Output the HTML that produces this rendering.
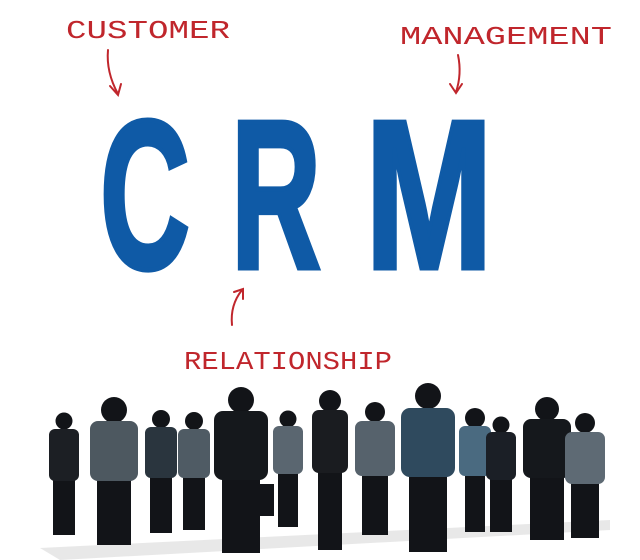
<!DOCTYPE html>
<html><head><style>
html,body{margin:0;padding:0;background:#fff;width:640px;height:560px;overflow:hidden}
</style></head><body>
<svg width="640" height="560" viewBox="0 0 640 560" xmlns="http://www.w3.org/2000/svg">
<rect width="640" height="560" fill="#fff"/>
<g font-family="Liberation Sans Narrow, Liberation Sans, sans-serif" font-weight="bold" fill="#0f5aa6" stroke="#0f5aa6" stroke-width="5" stroke-linejoin="miter">
<text x="100" y="268" font-size="212" textLength="90" lengthAdjust="spacingAndGlyphs">C</text>
<text x="231" y="268" font-size="212" textLength="90" lengthAdjust="spacingAndGlyphs">R</text>
<text x="365" y="268" font-size="212" textLength="128" lengthAdjust="spacingAndGlyphs">M</text>
</g>
<g font-family="Liberation Mono, monospace" fill="#c0262c" font-size="26">
<text x="66" y="38" textLength="164" lengthAdjust="spacingAndGlyphs">CUSTOMER</text>
<text x="400" y="44" textLength="212" lengthAdjust="spacingAndGlyphs">MANAGEMENT</text>
<text x="184" y="369" textLength="208" lengthAdjust="spacingAndGlyphs">RELATIONSHIP</text>
</g>
<g stroke="#c0262c" stroke-width="2" fill="none" stroke-linecap="round">
<path d="M108 50 Q106 72 118 94"/><path d="M110 86 L118 95 L121 84"/>
<path d="M458 55 Q462 74 456 92"/><path d="M450 84 L456 93 L462 84"/>
<path d="M232 325 Q230 305 242 290"/><path d="M234 292 L243 289 L243 299"/>
</g>
<g fill="#d8d8d8" opacity="0.6">
<path d="M40 548 L610 520 L610 530 L60 560 Z"/>
</g>
<g fill="#121418">
<circle cx="64" cy="421" r="8.5"/><rect x="53" y="473" width="22" height="62"/>
<circle cx="114" cy="410" r="13"/><rect x="97" y="475" width="34" height="70"/>
<circle cx="161" cy="419" r="9"/><rect x="150" y="472" width="22" height="61"/>
<circle cx="194" cy="421" r="9"/><rect x="183" y="472" width="22" height="58"/>
<circle cx="241" cy="400" r="13"/><rect x="222" y="474" width="38" height="79"/>
<circle cx="288" cy="419" r="8.5"/><rect x="278" y="468" width="20" height="59"/>
<circle cx="330" cy="401" r="11"/><rect x="318" y="467" width="24" height="83"/>
<circle cx="375" cy="412" r="10"/><rect x="362" y="470" width="26" height="65"/>
<circle cx="428" cy="396" r="13"/><rect x="409" y="471" width="38" height="81"/>
<circle cx="475" cy="418" r="10"/><rect x="465" y="470" width="20" height="62"/>
<circle cx="501" cy="425" r="8.5"/><rect x="490" y="474" width="22" height="58"/>
<circle cx="547" cy="409" r="12"/><rect x="530" y="472" width="34" height="68"/>
<circle cx="585" cy="423" r="10"/><rect x="571" y="478" width="28" height="60"/>
<rect x="258" y="484" width="16" height="32"/>
</g>
<g>
<rect x="49" y="429" width="30" height="52" rx="6" fill="#1c1f24"/>
<rect x="90" y="421" width="48" height="60" rx="8" fill="#4d5860"/>
<rect x="145" y="427" width="32" height="51" rx="6" fill="#2a353e"/>
<rect x="178" y="429" width="32" height="49" rx="6" fill="#4f5b64"/>
<rect x="214" y="411" width="54" height="69" rx="9" fill="#15181c"/>
<rect x="273" y="426" width="30" height="48" rx="6" fill="#5a6670"/>
<rect x="312" y="410" width="36" height="63" rx="7" fill="#1a1c20"/>
<rect x="355" y="421" width="40" height="55" rx="7" fill="#56626c"/>
<rect x="401" y="408" width="54" height="69" rx="9" fill="#2f4a5e"/>
<rect x="459" y="426" width="32" height="50" rx="6" fill="#4a6a80"/>
<rect x="486" y="432" width="30" height="48" rx="6" fill="#1b1f26"/>
<rect x="523" y="419" width="48" height="59" rx="8" fill="#15181c"/>
<rect x="565" y="432" width="40" height="52" rx="7" fill="#5e6a74"/>
</g>
</svg>
</body></html>
